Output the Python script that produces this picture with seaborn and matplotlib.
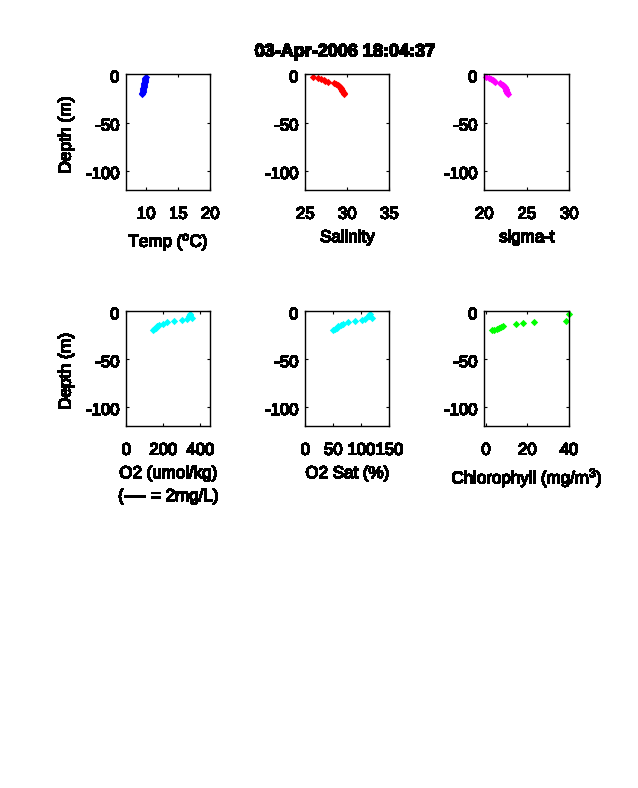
import pandas as pd
import matplotlib
matplotlib.use('Agg')
import matplotlib.pyplot as plt
import matplotlib.patheffects as pe
from matplotlib.transforms import ScaledTranslation
import seaborn as sns

# depth of each bin (m), positive down; plotted as negative
depth_ctd = [3, 4, 5, 6, 7, 8, 9, 10, 11, 12, 13, 14, 15, 16, 17, 18, 19, 20]
temp = [9.9, 9.88, 9.85, 9.82, 9.8, 9.75, 9.72, 9.7, 9.65, 9.62, 9.6, 9.55, 9.52, 9.5, 9.47, 9.45, 9.42, 9.4]
salinity = [25.9, 26.5, 26.9, 27.2, 27.4, 27.7, 28.4, 28.6, 28.9, 29.0, 29.15, 29.25, 29.3, 29.35, 29.4, 29.45, 29.55, 29.6]
sigma_t = [20.2, 20.6, 20.8, 21.0, 21.1, 21.2, 21.85, 22.0, 22.15, 22.3, 22.4, 22.45, 22.5, 22.55, 22.6, 22.65, 22.7, 22.75]

depth_o2 = [3, 4, 5, 6.6, 8, 9.5, 10.6, 11.6, 13, 14, 15.4, 17, 18.8, 20]
o2 = [345, 345, 340, 353, 326, 299, 259, 221, 200, 178, 167, 160, 151, 146]
o2_sat = [115, 114, 113, 118.6, 106.6, 102, 89, 76.8, 68, 63, 59, 57, 53, 50]

depth_chl = [3, 10.3, 11.6, 12.6, 13.7, 15, 16, 17, 18.4, 19.3, 20]
chl = [40.2, 38.8, 23.3, 18, 14.6, 8.4, 7.3, 6.3, 5.2, 4, 3]

title = '03-Apr-2006 18:04:37'
W, H = 638, 788
heavy = [pe.withStroke(linewidth=0.35, foreground='black')]


def profile_panel(fig, box, x, depth, color, xlim, xticks, xlabel, ylabel=None, label_pad=6):
    """Draw one depth profile; box is left, top, right, bottom in pixels."""
    left, top, right, bottom = box
    ax = fig.add_axes([left / W, 1 - bottom / H, (right - left) / W, (bottom - top) / H])
    df = pd.DataFrame({'x': x, 'depth': [-d for d in depth]})
    sns.scatterplot(data=df, x='x', y='depth', ax=ax, color=color, marker='D', s=14,
                    linewidth=0, legend=False, clip_on=False)
    ax.set_xlim(*xlim)
    ax.set_ylim(-120, 0)
    ax.set_xticks(xticks)
    ax.set_yticks([-100, -50, 0])
    ax.tick_params(direction='in', top=True, right=True, length=2.2, width=0.8,
                   labelsize=12, pad=12)
    ax.tick_params(axis='y', pad=5)
    ax.set_xlabel(xlabel, fontsize=12.2, labelpad=label_pad, linespacing=1.65, va='top', path_effects=heavy)
    ax.set_ylabel(ylabel if ylabel else '', fontsize=12.5, labelpad=9, y=0.475, path_effects=heavy)
    # MATLAB puts the y labels a bit below their ticks
    shift = ScaledTranslation(0, -2 / 100, fig.dpi_scale_trans)
    for lab in ax.get_yticklabels():
        lab.set_transform(lab.get_transform() + shift)
    for lab in ax.get_xticklabels() + ax.get_yticklabels():
        lab.set_path_effects(heavy)
    for s in ax.spines.values():
        s.set_linewidth(1.0)
    return ax


sns.set_style('ticks')
plt.rcParams['font.family'] = ['Liberation Sans', 'DejaVu Sans']
plt.rcParams['axes.unicode_minus'] = False
plt.rcParams['text.antialiased'] = False
plt.rcParams['mathtext.default'] = 'regular'
plt.rcParams['text.color'] = 'black'
plt.rcParams['axes.labelcolor'] = 'black'
plt.rcParams['xtick.color'] = 'black'
plt.rcParams['ytick.color'] = 'black'
plt.rcParams['axes.edgecolor'] = 'black'

fig = plt.figure(figsize=(W / 100, H / 100), dpi=100)

row1 = (74.3, 190)
row2 = (311.3, 426)
col1 = (126.3, 210.3)
col2 = (305.3, 389.3)
col3 = (484.3, 569.3)

profile_panel(fig, (col1[0], row1[0], col1[1], row1[1]), temp, depth_ctd, '#0000ff', (6.9, 20),
              [10, 15, 20], 'Temp ($^{o}$C)', 'Depth (m)', label_pad=7)
profile_panel(fig, (col2[0], row1[0], col2[1], row1[1]), salinity, depth_ctd, '#ff0000', (25, 35),
              [25, 30, 35], 'Salinity')
profile_panel(fig, (col3[0], row1[0], col3[1], row1[1]), sigma_t, depth_ctd, '#ff00ff', (20, 30),
              [20, 25, 30], 'sigma-t')
profile_panel(fig, (col1[0], row2[0], col1[1], row2[1]), o2, depth_o2, '#00ffff', (0, 454),
              [0, 200, 400], 'O2 (umol/kg)\n(---- = 2mg/L)', 'Depth (m)')
profile_panel(fig, (col2[0], row2[0], col2[1], row2[1]), o2_sat, depth_o2, '#00ffff', (0, 150),
              [0, 50, 100, 150], 'O2 Sat (%)')
profile_panel(fig, (col3[0], row2[0], col3[1], row2[1]), chl, depth_chl, '#00ff00', (-0.8, 40.2),
              [0, 20, 40], 'Chlorophyll (mg/m$^{3}$)')

fig.text(345 / W, 1 - 52 / H, title, ha='center', va='center', fontsize=13, fontweight='bold',
         path_effects=heavy)

fig.savefig('out.png', dpi=100, facecolor='white')
